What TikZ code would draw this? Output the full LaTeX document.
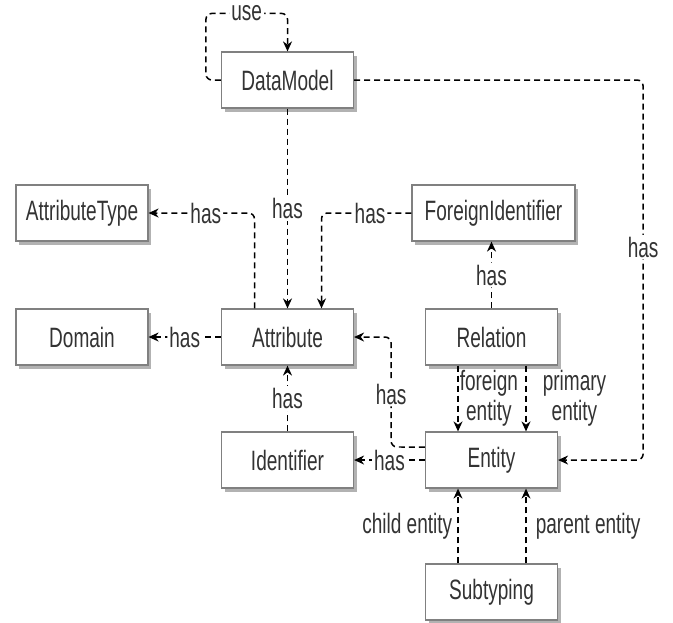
\documentclass[tikz,border=0pt]{standalone}
\usepackage{fontspec}
\setmainfont[FakeStretch=0.68]{Liberation Sans}
\usetikzlibrary{calc, positioning}
\usetikzlibrary{arrows.meta}
\usetikzlibrary{shadows}

\begin{document}
\begin{tikzpicture}[x=0.5pt,y=-0.5pt,
  box/.style={draw=black!50, fill=white, line width=0.6pt, minimum width=66pt, minimum height=28pt,
    font=\fontsize{14}{15}\selectfont, text=black!80,
    drop shadow={shadow xshift=1.5pt, shadow yshift=-2pt, fill=black!30, opacity=1}},
  conn/.style={dash pattern=on 3pt off 2pt, line width=0.75pt, rounded corners=3pt,
    -{Stealth[length=5pt, width=4.5pt]}},
  lbl/.style={fill=white, inner sep=1pt, font=\fontsize{14}{15}\selectfont, text=black!80},
  elbl/.style={inner sep=0.5pt, align=center, font=\fontsize{14}{15}\selectfont, text=black!80}]
\useasboundingbox (0,0) rectangle (673,622);
\node[box] (dataModel) at (287.5,80) {DataModel};
\node[box] (attrType) at (82,213) {AttributeType};
\node[box, minimum width=81.5pt] (foreignId) at (493.5,213) {ForeignIdentifier};
\node[box] (domain) at (82,337) {Domain};
\node[box] (attribute) at (287.5,337) {Attribute};
\node[box] (relation) at (491.5,337) {Relation};
\node[box] (identifier) at (287.5,460) {Identifier};
\node[box] (entity) at (491.5,460) {Entity};
\node[box] (subtyping) at (491.5,592) {Subtyping};

\draw[conn] (dataModel.west) -- ++(-15,0) |- node[lbl, pos=0.75] {use} ($(dataModel.north)+(0,-38)$) -- (dataModel.north);
\draw[conn] (dataModel.east) -| node[lbl, pos=0.72] {has} ($(entity.east)+(85,0)$) -- (entity.east);
\draw[conn] (dataModel) -- node[lbl] {has} (attribute);
\draw[conn] ($(attribute.north)+(-33,0)$) |- node[lbl, pos=0.73] {has} (attrType.east);
\draw[conn] (foreignId.west) -| node[lbl, pos=0.23] {has} ($(attribute.north)+(34,0)$);
\draw[conn] (attribute) -- node[lbl] {has} (domain);
\draw[conn] (identifier) -- node[lbl] {has} (attribute);
\draw[conn] ($(entity.west)+(0,-13)$) -| node[lbl, pos=0.74] {has} ($(attribute.east)+(37,0)$) -- (attribute.east);
\draw[conn] (entity) -- node[lbl] {has} (identifier);
\draw[conn] (relation.north) -- node[lbl] {has} (relation.north |- foreignId.south);
\draw[conn] ($(relation.south)+(-33.5,0)$) -- node[elbl, right] {foreign\\entity} ($(entity.north)+(-33.5,0)$);
\draw[conn] ($(relation.south)+(34.5,0)$) -- node[elbl, right, xshift=7.5pt] {primary\\entity} ($(entity.north)+(34.5,0)$);
\draw[conn] ($(subtyping.north)+(-33.5,0)$) -- node[elbl, left, inner sep=2.5pt] {child entity} ($(entity.south)+(-33.5,0)$);
\draw[conn] ($(subtyping.north)+(34.5,0)$) -- node[elbl, right, inner sep=4.5pt] {parent entity} ($(entity.south)+(34.5,0)$);
\end{tikzpicture}
\end{document}
